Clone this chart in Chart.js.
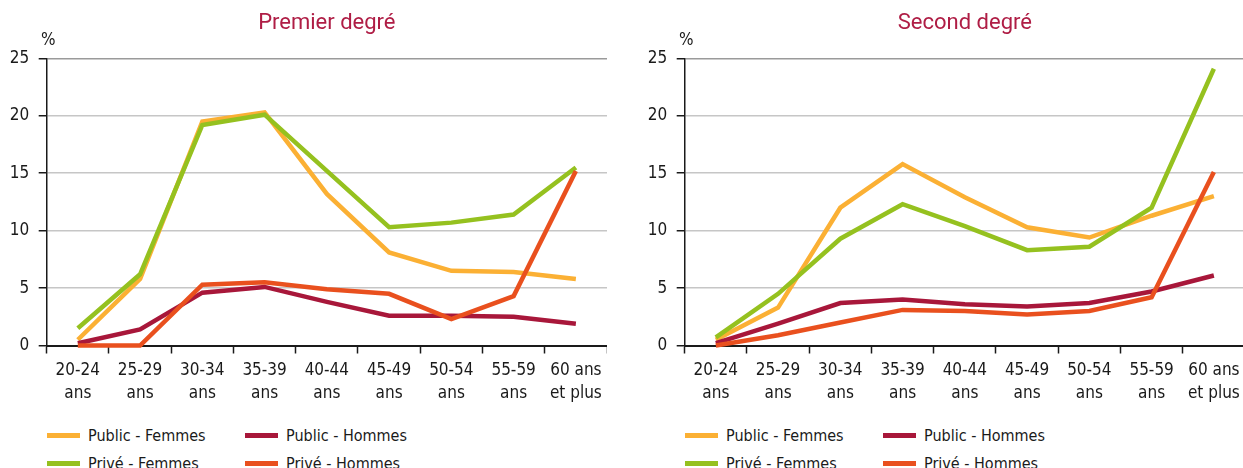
<!DOCTYPE html>
<html lang="fr">
<head>
<meta charset="utf-8">
<script src="https://cdn.jsdelivr.net/npm/chart.js@4.4.1/dist/chart.umd.min.js"></script>
<style>
  html, body { margin: 0; padding: 0; background: #fff; width: 1243px; height: 468px; overflow: hidden; }
  .panel { position: absolute; top: 0; width: 607px; height: 468px; }
  .panel canvas { position: absolute; left: 0; top: 0; }
  .pct { position: absolute; left: 41px; top: 29px; font: 17px 'DejaVu Sans Condensed', 'DejaVu Sans', sans-serif; color: #1a1a1a; }
  .item { position: absolute; display: flex; align-items: center; height: 20px; font: 16px 'DejaVu Sans Condensed', 'DejaVu Sans', sans-serif; color: #1a1a1a; white-space: nowrap; }
  .swatch { width: 33px; height: 5px; margin-right: 8px; }
</style>
</head>
<body>
<div class="panel" id="p1" style="left:0">
  <canvas id="chart-premier" width="607" height="410"></canvas>
  <div class="pct">%</div>
</div>
<div class="panel" id="p2" style="left:638px">
  <canvas id="chart-second" width="607" height="410"></canvas>
  <div class="pct">%</div>
</div>
<script>
// ===== Data =====
const categories = [
  ['20-24', 'ans'], ['25-29', 'ans'], ['30-34', 'ans'], ['35-39', 'ans'], ['40-44', 'ans'],
  ['45-49', 'ans'], ['50-54', 'ans'], ['55-59', 'ans'], ['60 ans', 'et plus']
];
const yTicks = [0, 5, 10, 15, 20, 25];
const seriesNames = ['Public - Femmes', 'Public - Hommes', 'Privé - Femmes', 'Privé - Hommes'];
const seriesColors = ['#FBB034', '#A8173A', '#95C11F', '#E9501E'];
const seriesOrder = [3, 1, 2, 0]; // Privé - Hommes drawn on top

// Premier degré
const premierPublicFemmes = [0.5, 5.8, 19.5, 20.3, 13.2, 8.1, 6.5, 6.4, 5.8];
const premierPublicHommes = [0.2, 1.4, 4.6, 5.1, 3.8, 2.6, 2.6, 2.5, 1.9];
const premierPriveFemmes  = [1.5, 6.2, 19.2, 20.1, 15.2, 10.3, 10.7, 11.4, 15.5];
const premierPriveHommes  = [0.0, 0.0, 5.3, 5.5, 4.9, 4.5, 2.3, 4.3, 15.2];

// Second degré
const secondPublicFemmes = [0.5, 3.3, 12.0, 15.8, 12.9, 10.3, 9.4, 11.3, 13.0];
const secondPublicHommes = [0.2, 1.9, 3.7, 4.0, 3.6, 3.4, 3.7, 4.7, 6.1];
const secondPriveFemmes  = [0.7, 4.5, 9.3, 12.3, 10.4, 8.3, 8.6, 12.0, 24.1];
const secondPriveHommes  = [0.0, 0.9, 2.0, 3.1, 3.0, 2.7, 3.0, 4.2, 15.1];

const FONT = "'DejaVu Sans Condensed', 'DejaVu Sans', sans-serif";
const INK = '#1a1a1a';

function makeChart(canvasId, title, series) {
  const ctx = document.getElementById(canvasId);
  return new Chart(ctx, {
    type: 'line',
    data: {
      labels: categories,
      datasets: series.map((values, i) => ({
        label: seriesNames[i], data: values, borderColor: seriesColors[i], backgroundColor: seriesColors[i],
        borderWidth: 4.5, pointRadius: 0, tension: 0, order: seriesOrder[i], clip: false
      }))
    },
    options: {
      responsive: false, animation: false,
      layout: { padding: 0 },
      plugins: {
        legend: { display: false }, tooltip: { enabled: false },
        title: { display: true, text: title, fullSize: false, color: '#AF1D45',
                 font: { family: 'Roboto', size: 22, weight: 'normal', lineHeight: 1.2 },
                 padding: { top: 10, bottom: 22 } }
      },
      scales: {
        x: {
          offset: true,
          grid: { display: true, offset: true, drawOnChartArea: false, tickLength: 8, tickColor: INK, tickWidth: 1.5 },
          border: { display: true, color: INK, width: 2 },
          ticks: { color: INK, font: { family: FONT, size: 17, lineHeight: 1.38 }, padding: 5, maxRotation: 0, autoSkip: false },
          afterFit: s => { s.height = 64.5; }
        },
        y: {
          min: yTicks[0], max: yTicks[yTicks.length - 1],
          afterBuildTicks: s => { s.ticks = yTicks.map(v => ({ value: v })); },
          grid: { color: c => c.tick && c.tick.value === 25 ? '#9a9a9a' : '#c6c6c6', lineWidth: 1.5, tickLength: 8, tickColor: INK, tickWidth: 1.5 },
          border: { display: true, color: INK, width: 1.5 },
          ticks: { color: INK, font: { family: FONT, size: 17 }, padding: 9.4 },
          afterFit: s => { s.width = 46.7; }
        }
      }
    }
  });
}

function renderLegend(panelId) {
  const panel = document.getElementById(panelId);
  const rows = [435.7, 463];
  const cols = [47, 245];
  // two columns: Public on first row, Privé on second
  const layout = [[0, 0, 0], [1, 0, 1], [2, 1, 0], [3, 1, 1]];
  layout.forEach(([idx, r, c]) => {
    const el = document.createElement('div');
    el.className = 'item';
    el.style.left = cols[c] + 'px';
    el.style.top = (rows[r] - 10) + 'px';
    el.innerHTML = `<span class="swatch" style="background:${seriesColors[idx]}"></span><span>${seriesNames[idx]}</span>`;
    panel.appendChild(el);
  });
}

makeChart('chart-premier', 'Premier degré', [premierPublicFemmes, premierPublicHommes, premierPriveFemmes, premierPriveHommes]);
makeChart('chart-second', 'Second degré', [secondPublicFemmes, secondPublicHommes, secondPriveFemmes, secondPriveHommes]);
renderLegend('p1');
renderLegend('p2');
</script>
</body>
</html>
